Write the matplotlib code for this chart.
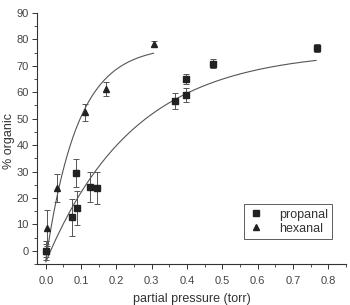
import numpy as np
import matplotlib
matplotlib.use("Agg")
import matplotlib.pyplot as plt
from matplotlib.ticker import MultipleLocator

plt.rcParams['font.family'] = ['Liberation Sans', 'DejaVu Sans']

# ── data ─────────────────────────────────────────────
propanal_x = [0.0, 0.0745, 0.086, 0.088, 0.125, 0.145, 0.366, 0.396, 0.396, 0.472, 0.769]
propanal_y = [0.0, 12.7, 29.4, 16.1, 24.1, 23.8, 56.6, 58.9, 65.1, 70.8, 76.6]
propanal_err = [3.6, 7.0, 5.4, 6.5, 5.7, 6.0, 3.0, 2.7, 2.0, 1.7, 1.5]

hexanal_x = [0.0, 0.002, 0.032, 0.110, 0.170, 0.307]
hexanal_y = [0.0, 8.7, 23.8, 52.5, 61.2, 78.3]
hexanal_err = [2.4, 6.8, 5.3, 3.2, 2.7, 1.0]

# exponential fits  y = y0 + A (1 - exp(-x / t)), and their x-range
propanal_fit = dict(y0=-4.2, A=80.0, t=0.25, xmax=0.765)
hexanal_fit = dict(y0=-3.5, A=81.0, t=0.09, xmax=0.305)


def fit_curve(p):
    xs = np.linspace(0, p["xmax"], 200)
    return xs, p["y0"] + p["A"] * (1 - np.exp(-xs / p["t"]))


fig = plt.figure(figsize=(3.5, 3.05), dpi=100)
ax = fig.add_axes([0.1057, 0.1344, 0.883, 0.823])

line_col = "#555555"
for fit in (propanal_fit, hexanal_fit):
    xs, ys = fit_curve(fit)
    ax.plot(xs, ys, color=line_col, lw=0.8, zorder=2)

ax.errorbar(propanal_x, propanal_y, yerr=propanal_err, fmt="s", ms=4.0,
            mfc="#222222", mec="#222222", ecolor=line_col, elinewidth=0.7,
            capsize=2.5, capthick=0.7, label="propanal", zorder=3)
ax.errorbar(hexanal_x, hexanal_y, yerr=hexanal_err, fmt="^", ms=5.0,
            mfc="#222222", mec="#222222", ecolor=line_col, elinewidth=0.7,
            capsize=2.5, capthick=0.7, label="hexanal", zorder=3)

ax.set_xlim(-0.025, 0.85)
ax.set_ylim(-5, 90)
ax.xaxis.set_major_locator(MultipleLocator(0.1))
ax.xaxis.set_minor_locator(MultipleLocator(0.05))
ax.yaxis.set_major_locator(MultipleLocator(10))
ax.yaxis.set_minor_locator(MultipleLocator(5))
ax.xaxis.set_major_formatter(plt.FuncFormatter(lambda v, _: f"{v:.1f}"))

for s in ("top", "right"):
    ax.spines[s].set_visible(False)
for s in ("left", "bottom"):
    ax.spines[s].set_color("#333333")
    ax.spines[s].set_linewidth(0.8)

ax.tick_params(which="major", direction="out", length=3.5, width=0.7,
               colors="#333333", labelsize=8, labelcolor="#444444")
ax.tick_params(axis="x", which="major", pad=5)
ax.tick_params(axis="y", which="major", pad=2.5)
ax.tick_params(which="minor", direction="out", length=2, width=0.6, colors="#333333")

ax.set_xlabel("partial pressure (torr)", fontsize=9, color="#333333", labelpad=5)
ax.set_ylabel("% organic", fontsize=9, color="#333333")
ax.yaxis.set_label_coords(-0.07, 0.49)

handles, labels = ax.get_legend_handles_labels()
handles = [h[0] for h in handles]
leg = ax.legend(handles, labels, loc="lower right", bbox_to_anchor=(0.975, 0.075),
                fontsize=9, frameon=True, fancybox=False, edgecolor="#333333",
                handletextpad=1.2, borderpad=0.35, labelspacing=0.15, handlelength=1.2)
leg.get_frame().set_linewidth(0.7)
for t in leg.get_texts():
    t.set_color("#333333")

fig.savefig("out.png", dpi=100)
